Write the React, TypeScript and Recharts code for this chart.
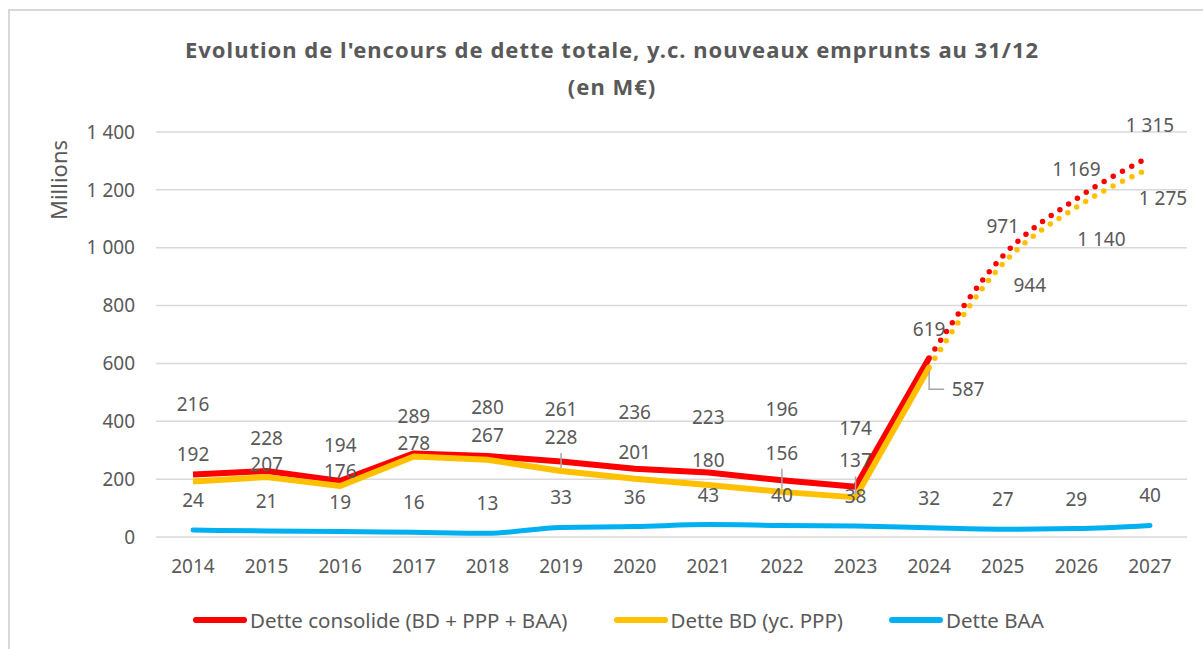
import { LineChart, Line, XAxis, YAxis, CartesianGrid, LabelList } from 'recharts';

const YEARS = ['2014', '2015', '2016', '2017', '2018', '2019', '2020', '2021', '2022', '2023', '2024', '2025', '2026', '2027'];
const DETTE_CONSOLIDEE = [216, 228, 194, 289, 280, 261, 236, 223, 196, 174, 619, 971, 1169, 1315];
const DETTE_BD = [192, 207, 176, 278, 267, 228, 201, 180, 156, 137, 587, 944, 1140, 1275];
const DETTE_BAA = [24, 21, 19, 16, 13, 33, 36, 43, 40, 38, 32, 27, 29, 40];
const Y_TICKS = [0, 200, 400, 600, 800, 1000, 1200, 1400];

// 2024 = dernier point en trait plein, ensuite projection en pointillés
const LAST_SOLID = 10;

// décalages des étiquettes (px), calés à la main comme dans Excel
const CONSO_LABEL_DY = [-71, -33, -36, -37, -49, -52, -57, -55, -71, -59, -29, -30, -30, -32];
const BD_LABEL_DX = [0, 0, 0, 0, 0, 0, 0, 0, 0, 0, 39, 27, 25, 13];
const BD_LABEL_DY = [-27, -13, -15, -14, -25, -34, -27, -25, -39, -37, 22, 21, 32, 30];
const BD_LEADERS: Record<number, 'line' | 'elbow'> = { 5: 'line', 8: 'line', 9: 'line', 10: 'elbow' };
const BAA_LABEL_DY = -30;

const RED = '#FF0000';
const YELLOW = '#FFC000';
const BLUE = '#00B0F0';
const TEXT = '#595959';
const FONT = '"Noto Sans", "Open Sans", sans-serif';

const fmt = (v: number) =>
  v >= 1000 ? `${Math.floor(v / 1000)} ${String(v % 1000).padStart(3, '0')}` : String(v);

const data = YEARS.map((year, i) => ({
  year,
  consoSolid: i <= LAST_SOLID ? DETTE_CONSOLIDEE[i] : null,
  consoProj: i >= LAST_SOLID ? DETTE_CONSOLIDEE[i] : null,
  bdSolid: i <= LAST_SOLID ? DETTE_BD[i] : null,
  bdProj: i >= LAST_SOLID ? DETTE_BD[i] : null,
  baa: DETTE_BAA[i],
}));

type LabelProps = { x?: number; y?: number; value?: number | null; index?: number };

function makeLabel(
  dx: (i: number) => number,
  dy: (i: number) => number,
  keep: (i: number) => boolean,
  leaders: Record<number, 'line' | 'elbow'> = {}
) {
  return (props: LabelProps) => {
    const { x, y, value, index } = props;
    if (value == null || x == null || y == null || index == null || !keep(index)) return null;
    const lx = x + dx(index);
    const ly = y + dy(index);
    const leader = leaders[index];
    return (
      <g key={`lbl-${index}`}>
        {leader === 'line' && (
          <line x1={lx} y1={ly + 16} x2={x} y2={y - 3} stroke="#A6A6A6" strokeWidth={1.5} />
        )}
        {leader === 'elbow' && (
          <polyline
            points={`${x},${y + 4} ${x},${ly} ${lx - 24},${ly}`}
            fill="none"
            stroke="#A6A6A6"
            strokeWidth={1.5}
          />
        )}
        <text
          x={lx}
          y={ly}
          textAnchor="middle"
          dominantBaseline="central"
          fill={TEXT}
          fontSize={19}
          fontFamily={FONT}
        >
          {fmt(value)}
        </text>
      </g>
    );
  };
}

const consoLabel = makeLabel(() => 0, (i) => CONSO_LABEL_DY[i], () => true);
const consoProjLabel = makeLabel(() => 0, (i) => CONSO_LABEL_DY[i], (i) => i > LAST_SOLID);
const bdLabel = makeLabel((i) => BD_LABEL_DX[i], (i) => BD_LABEL_DY[i], () => true, BD_LEADERS);
const bdProjLabel = makeLabel((i) => BD_LABEL_DX[i], (i) => BD_LABEL_DY[i], (i) => i > LAST_SOLID);
const baaLabel = makeLabel(() => 0, () => BAA_LABEL_DY, () => true);

const LEGEND = [
  { label: 'Dette consolide (BD + PPP + BAA)', color: RED },
  { label: 'Dette BD (yc. PPP)', color: YELLOW },
  { label: 'Dette BAA', color: BLUE },
];

export default function App() {
  return (
    <div style={{ position: 'absolute', left: 0, top: 0, width: 1203, height: 649, background: '#fff', overflow: 'hidden', fontFamily: FONT }}>
      {/* bord du cadre Excel */}
      <div style={{ position: 'absolute', left: 8, top: 9, width: 1200, height: 650, borderLeft: '2px solid #D9D9D9', borderTop: '2px solid #D9D9D9' }} />

      <div style={{ position: 'absolute', left: 21, top: 31, width: 1182, textAlign: 'center', color: TEXT, fontWeight: 700, fontSize: 22, letterSpacing: 1, lineHeight: '37px' }}>
        Evolution de l'encours de dette totale, y.c. nouveaux emprunts au 31/12
        <br />
        (en M€)
      </div>

      <div style={{ position: 'absolute', left: 58, top: 180, transform: 'translate(-50%, -50%) rotate(-90deg)', color: TEXT, fontSize: 22, whiteSpace: 'nowrap' }}>
        Millions
      </div>

      <div style={{ position: 'absolute', left: 0, top: 0 }}>
        <LineChart width={1203} height={649} data={data} margin={{ top: 132, right: 16, bottom: 72, left: 0 }}>
          <CartesianGrid vertical={false} stroke="#D9D9D9" strokeWidth={1.5} />
          <XAxis
            dataKey="year"
            height={40}
            axisLine={false}
            tickLine={false}
            tickMargin={17}
            padding={{ left: 37, right: 37 }}
            tick={{ fill: TEXT, fontSize: 19, fontFamily: FONT }}
            interval={0}
          />
          <YAxis
            width={156}
            domain={[0, 1400]}
            ticks={Y_TICKS}
            axisLine={false}
            tickLine={false}
            tickMargin={15}
            tickFormatter={fmt}
            tick={{ fill: TEXT, fontSize: 19, fontFamily: FONT }}
          />
          <Line dataKey="consoSolid" type="linear" stroke={RED} strokeWidth={6} strokeLinejoin="round" dot={false} activeDot={false} isAnimationActive={false}>
            <LabelList dataKey="consoSolid" content={consoLabel} />
          </Line>
          <Line dataKey="consoProj" type="monotone" stroke={RED} strokeWidth={5.5} strokeDasharray="0 10.5" strokeLinecap="round" dot={false} activeDot={false} isAnimationActive={false}>
            <LabelList dataKey="consoProj" content={consoProjLabel} />
          </Line>
          <Line dataKey="bdSolid" type="linear" stroke={YELLOW} strokeWidth={6} strokeLinejoin="round" dot={false} activeDot={false} isAnimationActive={false}>
            <LabelList dataKey="bdSolid" content={bdLabel} />
          </Line>
          <Line dataKey="bdProj" type="monotone" stroke={YELLOW} strokeWidth={5.5} strokeDasharray="0 10.5" strokeLinecap="round" dot={false} activeDot={false} isAnimationActive={false}>
            <LabelList dataKey="bdProj" content={bdProjLabel} />
          </Line>
          <Line dataKey="baa" type="monotone" stroke={BLUE} strokeWidth={5} strokeLinecap="round" dot={false} activeDot={false} isAnimationActive={false}>
            <LabelList dataKey="baa" content={baaLabel} />
          </Line>
        </LineChart>
      </div>

      {/* légende */}
      <div style={{ position: 'absolute', left: 193, top: 606, display: 'flex', alignItems: 'center', gap: 46, color: TEXT, fontSize: 20.5 }}>
        {LEGEND.map((item) => (
          <div key={item.label} style={{ display: 'flex', alignItems: 'center', gap: 3 }}>
            <div style={{ width: 54, height: 6, borderRadius: 3, background: item.color }} />
            <span>{item.label}</span>
          </div>
        ))}
      </div>
    </div>
  );
}
